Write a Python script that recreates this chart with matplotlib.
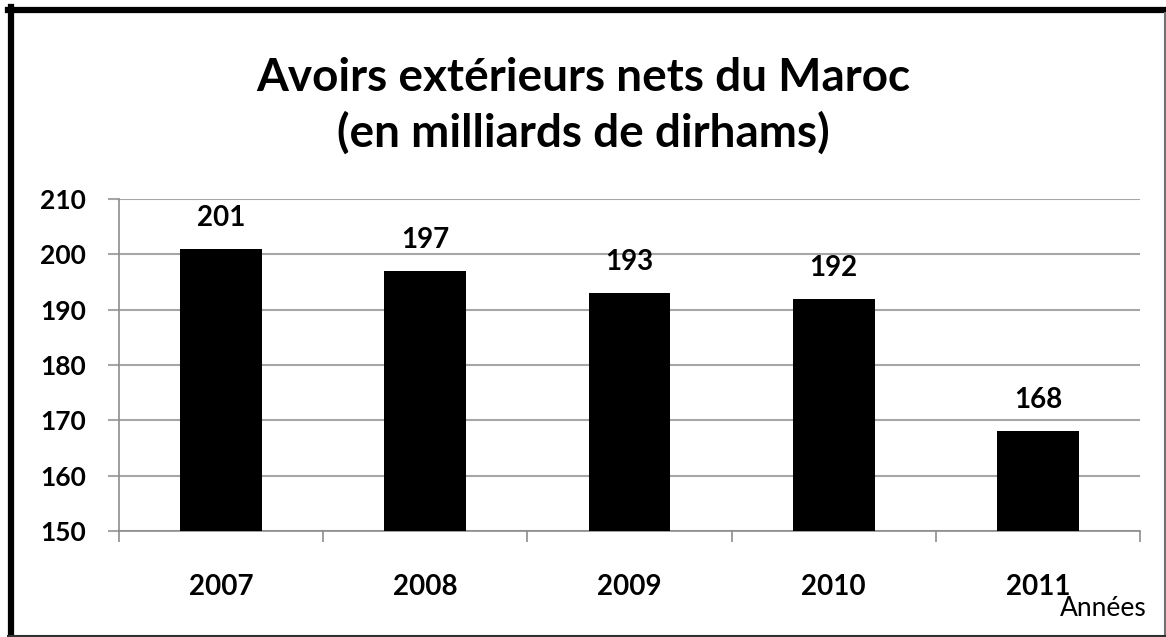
import matplotlib.pyplot as plt
from matplotlib.lines import Line2D

years = ['2007', '2008', '2009', '2010', '2011']
values = [201, 197, 193, 192, 168]
y_ticks = [150, 160, 170, 180, 190, 200, 210]

plt.rcParams['font.family'] = ['Lato', 'DejaVu Sans']

fig = plt.figure(figsize=(11.66, 6.37), dpi=100)
ax = fig.add_axes([0.1021, 0.1664, 0.8756, 0.5212])

x = range(len(years))
bars = ax.bar(x, [v - 150 for v in values], bottom=150, width=0.40,
              color='black', zorder=3)

for xi, v in zip(x, values):
    ax.annotate(str(v), (xi, v), xytext=(0, 13), textcoords='offset points',
                ha='center', va='bottom', fontsize=20, fontweight='bold')

ax.set_xlim(-0.5, len(years) - 0.5)
ax.set_ylim(150, 210)
ax.set_yticks(y_ticks)
ax.set_yticklabels([str(t) for t in y_ticks], fontsize=19, fontweight='bold')
ax.yaxis.grid(True, color='#a6a6a6', linewidth=1.5, zorder=0)

ax.set_xticks(list(x))
ax.set_xticklabels(years, fontsize=20, fontweight='bold')
ax.tick_params(axis='x', which='major', length=0, pad=31)
ax.set_xticks([i - 0.5 for i in range(len(years) + 1)], minor=True)
ax.tick_params(axis='x', which='minor', length=8, color='#8c8c8c', width=1.2)
ax.tick_params(axis='y', length=8, color='#a6a6a6', width=1.5, pad=16)

for side in ['top', 'right']:
    ax.spines[side].set_visible(False)
ax.spines['left'].set_color('#8c8c8c')
ax.spines['bottom'].set_color('#8c8c8c')
ax.spines['left'].set_linewidth(1.2)
ax.spines['bottom'].set_linewidth(1.2)

fig.text(0.5, 0.877, 'Avoirs extérieurs nets du Maroc', ha='center', va='center',
         fontsize=33, fontweight='bold')
fig.text(0.5, 0.791, '(en milliards de dirhams)', ha='center', va='center',
         fontsize=33, fontweight='bold')
fig.text(0.946, 0.044, 'Années', ha='center', va='center', fontsize=19)

# outer frame
W, H = 1166, 637
fig.add_artist(Line2D([11 / W, 11 / W], [0, 1 - 7 / H], color='black', linewidth=4.5,
                      transform=fig.transFigure, solid_capstyle='projecting'))
fig.add_artist(Line2D([8 / W, 1], [1 - 10 / H, 1 - 10 / H], color='black', linewidth=4.5,
                      transform=fig.transFigure, solid_capstyle='projecting'))
fig.add_artist(Line2D([1165 / W, 1165 / W], [0, 1 - 13 / H], color='#707070', linewidth=1.5,
                      transform=fig.transFigure))
fig.add_artist(Line2D([8 / W, 1], [1.5 / H, 1.5 / H], color='#303030', linewidth=1.5,
                      transform=fig.transFigure))

fig.savefig('out.png', dpi=100)
